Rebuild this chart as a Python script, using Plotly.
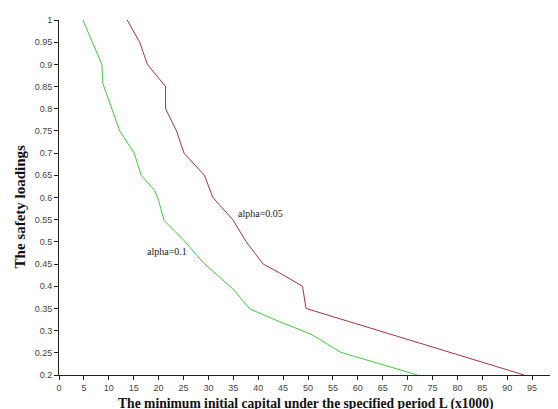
import plotly.graph_objects as go

# alpha = 0.05 curve
red_x = [13.7, 16.2, 17.75, 21.4, 21.4, 23.6, 25.1, 29.2, 30.9, 34.9, 37.6, 41.0, 44.3, 48.9, 49.6, 93.4]
red_y = [1.0, 0.95, 0.9, 0.85, 0.8, 0.75, 0.7, 0.65, 0.6, 0.55, 0.5, 0.45, 0.43, 0.40, 0.35, 0.2]

# alpha = 0.1 curve
green_x = [4.8, 8.6, 8.8, 12.2, 15.1, 16.5, 19.2, 20.0, 21.1, 25.1, 28.9, 34.9, 38.3, 44.3, 50.6, 56.6, 72.0]
green_y = [1.0, 0.9, 0.857, 0.75, 0.7, 0.65, 0.616, 0.593, 0.548, 0.503, 0.454, 0.394, 0.349, 0.32, 0.292, 0.251, 0.2]

x_ticks = list(range(0, 101, 5))
y_ticks = [round(0.2 + 0.05 * i, 2) for i in range(17)]
y_tick_text = [("%g" % v) for v in y_ticks]

labels = ["alpha=0.05", "alpha=0.1"]
label_x = [35.5, 17.2]
label_y = [0.563, 0.479]

x_title = "<b>The minimum initial capital under the specified period L (x1000)</b>"
y_title = "<b>The safety loadings</b>"

fig = go.Figure()
fig.add_trace(go.Scatter(x=red_x, y=red_y, mode="lines",
                         line=dict(color="#a33440", width=1), showlegend=False))
fig.add_trace(go.Scatter(x=green_x, y=green_y, mode="lines",
                         line=dict(color="#3ccc3c", width=1), showlegend=False))

for t, lx, ly in zip(labels, label_x, label_y):
    fig.add_annotation(x=lx, y=ly, text=t, showarrow=False, xanchor="left", yanchor="middle",
                       font=dict(family="Liberation Serif", size=10, color="#222"))

fig.add_annotation(xref="paper", yref="paper", x=0.494, y=-0.081, text=x_title, showarrow=False,
                   xanchor="center", yanchor="middle",
                   font=dict(family="Liberation Serif", size=13.6, color="#111"))
fig.add_annotation(xref="paper", yref="paper", x=-0.079, y=0.474, text=y_title, showarrow=False,
                   xanchor="center", yanchor="middle", textangle=-90,
                   font=dict(family="Liberation Serif", size=15, color="#111"))

axis_common = dict(showgrid=False, zeroline=False, showline=True, linecolor="#222", linewidth=1,
                   ticks="outside", ticklen=4, tickcolor="#222", automargin=False,
                   ticklabeloverflow="allow",
                   tickfont=dict(family="Liberation Sans", size=9, color="#444"))

fig.update_xaxes(range=[0, 100], tickmode="array", tickvals=x_ticks, **axis_common)
fig.update_yaxes(range=[0.2, 1], tickmode="array", tickvals=y_ticks, ticktext=y_tick_text, **axis_common)

# page body adds an 8px offset, so the figure is sized 550x401
fig.update_layout(width=550, height=401, margin=dict(l=51, r=1, t=12, b=34),
                  plot_bgcolor="white", paper_bgcolor="white")

fig.write_html("out.html")
